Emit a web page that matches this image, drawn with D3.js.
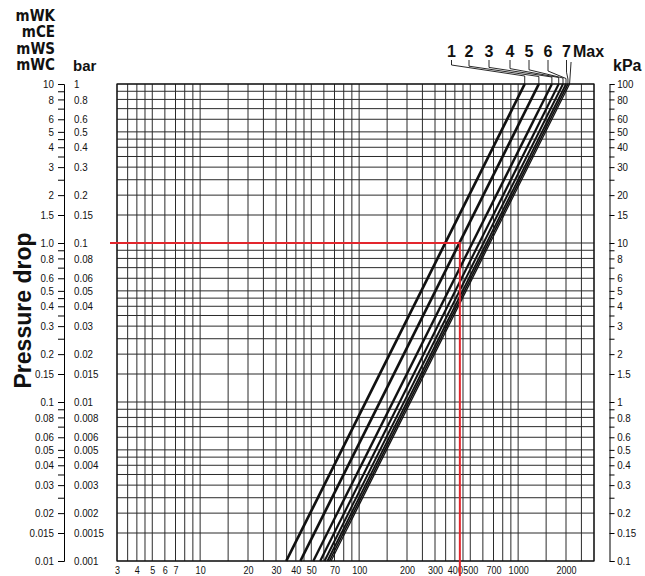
<!DOCTYPE html>
<html>
<head>
<meta charset="utf-8">
<script src="https://cdn.jsdelivr.net/npm/d3@7/dist/d3.min.js"></script>
<style>
  html, body { margin: 0; padding: 0; background: #fff; }
  svg { display: block; }
  .cond { font-family: "DejaVu Sans Condensed", "DejaVu Sans", sans-serif; }
  .wide { font-family: "Liberation Sans", Arial, sans-serif; }
</style>
</head>
<body>
<svg id="chart" width="645" height="576"></svg>
<script>
// Flow range (l/h) and pressure range (mWC) of the diagram
const flowDomain = [3, 3000];
const pressureDomain = [0.01, 10];

// Grid multipliers used inside every decade
const gridSteps = [1, 1.5, 2, 2.5, 3, 3.5, 4, 4.5, 5, 6, 7, 8, 9];

// Labelled flow values along the bottom
const flowLabels = [3, 4, 5, 6, 7, 10, 20, 30, 40, 50, 70, 100, 200, 300, 400, 500, 700, 1000, 2000];

// Labelled pressure values (mWC) with matching bar and kPa texts
const pressureValues = [10, 8, 6, 5, 4, 3, 2, 1.5, 1, 0.8, 0.6, 0.5, 0.4, 0.3, 0.2, 0.15,
  0.1, 0.08, 0.06, 0.05, 0.04, 0.03, 0.02, 0.015, 0.01];
const mwcLabels = ["10", "8", "6", "5", "4", "3", "2", "1.5", "1.0", "0.8", "0.6", "0.5", "0.4", "0.3", "0.2", "0.15",
  "0.1", "0.08", "0.06", "0.05", "0.04", "0.03", "0.02", "0.015", "0.01"];
const barLabels = ["1", "0.8", "0.6", "0.5", "0.4", "0.3", "0.2", "0.15", "0.1", "0.08", "0.06", "0.05", "0.04", "0.03", "0.02", "0.015",
  "0.01", "0.008", "0.006", "0.005", "0.004", "0.003", "0.002", "0.0015", "0.001"];
const kpaLabels = ["100", "80", "60", "50", "40", "30", "20", "15", "10", "8", "6", "5", "4", "3", "2", "1.5",
  "1", "0.8", "0.6", "0.5", "0.4", "0.3", "0.2", "0.15", "0.1"];

// Valve settings: flow (l/h) at 10 mWC and at 0.01 mWC
const settings = ["1", "2", "3", "4", "5", "6", "7", "Max"];
const flowAtTop = [1100, 1350, 1630, 1800, 1915, 2000, 2057, 2106];
const flowAtBottom = [34.8, 42.7, 51.5, 56.9, 60.6, 63.2, 65.0, 66.6];
const lineWidths = [2.7, 2.7, 2.4, 2.2, 2.0, 1.8, 1.6, 1.3];

// Worked example: setting 2 at 1.0 mWC
const exampleFlow = 430;
const examplePressure = 1.0;

// Header units
const unitStack = ["mWK", "mCE", "mWS", "mWC"];

const svg = d3.select("#chart");
const plot = { left: 117, right: 594, top: 84, bottom: 561 };

const x = d3.scaleLog().domain(flowDomain).range([plot.left, plot.right]);
const y = d3.scaleLog().domain(pressureDomain).range([plot.bottom, plot.top]);

function decadeValues(domain) {
  const out = [];
  for (let e = Math.floor(Math.log10(domain[0])); e <= Math.ceil(Math.log10(domain[1])); e++) {
    gridSteps.forEach(s => {
      const v = +(s * Math.pow(10, e)).toPrecision(6);
      if (v >= domain[0] * 0.9999 && v <= domain[1] * 1.0001) out.push(v);
    });
  }
  return out;
}
const flowGrid = decadeValues(flowDomain);
const pressureGrid = decadeValues(pressureDomain);

// Grid
const grid = svg.append("g").attr("stroke", "#2b2b2b").attr("stroke-width", 1);
grid.selectAll("line.v").data(flowGrid).join("line")
  .attr("class", "v")
  .attr("x1", d => x(d)).attr("x2", d => x(d))
  .attr("y1", plot.top).attr("y2", plot.bottom);
grid.selectAll("line.h").data(pressureGrid).join("line")
  .attr("class", "h")
  .attr("x1", plot.left).attr("x2", plot.right)
  .attr("y1", d => y(d)).attr("y2", d => y(d));

// Tick labels use a horizontally squeezed sans for a condensed look
const squeeze = 0.85;
function styleTicks(g, size, sx) {
  g.attr("font-family", null).attr("class", "wide");
  g.selectAll("text").attr("font-size", size).attr("fill", "#111")
    .attr("transform", `scale(${sx},1)`);
}
const labelFor = (vals, labels) => d => {
  const i = vals.findIndex(v => Math.abs(v - d) < 1e-9);
  return i >= 0 ? labels[i] : "";
};

// Left axis: mWC labels with ticks, bar labels on the other side
const leftX = 64;
const leftAxis = svg.append("g")
  .attr("transform", `translate(${leftX},0)`)
  .call(d3.axisLeft(y).tickValues(pressureGrid).tickSize(6).tickPadding(5.8)
    .tickFormat(labelFor(pressureValues, mwcLabels)));
styleTicks(leftAxis, 11.5, squeeze);

const barAxis = svg.append("g")
  .attr("transform", `translate(${leftX},0)`)
  .call(d3.axisRight(y).tickValues(pressureValues).tickSize(0).tickPadding(11.8)
    .tickFormat(labelFor(pressureValues, barLabels)));
barAxis.select(".domain").remove();
styleTicks(barAxis, 11.5, squeeze);

// Right axis: kPa
const rightX = 609.5;
const rightAxis = svg.append("g")
  .attr("transform", `translate(${rightX},0)`)
  .call(d3.axisRight(y).tickValues(pressureGrid).tickSize(5).tickPadding(4)
    .tickFormat(labelFor(pressureValues, kpaLabels)));
styleTicks(rightAxis, 11.5, squeeze);

// Bottom flow labels
const bottomAxis = svg.append("g")
  .attr("transform", `translate(0,${plot.bottom})`)
  .call(d3.axisBottom(x).tickValues(flowLabels).tickSize(0).tickPadding(5)
    .tickFormat(d => String(d)));
bottomAxis.select(".domain").remove();
styleTicks(bottomAxis, 11, 0.82);

// Plot frame
svg.append("rect")
  .attr("x", plot.left).attr("y", plot.top)
  .attr("width", plot.right - plot.left).attr("height", plot.bottom - plot.top)
  .attr("fill", "none").attr("stroke", "#111").attr("stroke-width", 1.2);

// Characteristic lines per setting
const series = settings.map((name, i) => ({
  name,
  width: lineWidths[i],
  points: [
    { flow: flowAtBottom[i], p: pressureDomain[0] },
    { flow: flowAtTop[i], p: pressureDomain[1] }
  ]
}));
const lineGen = d3.line().x(d => x(d.flow)).y(d => y(d.p));
svg.append("g").selectAll("path").data(series).join("path")
  .attr("d", d => lineGen(d.points))
  .attr("fill", "none").attr("stroke", "#111")
  .attr("stroke-width", d => d.width);

// Setting labels with leader lines
const settingLabelX = [451.5, 469, 489, 510, 529, 548, 566.5, 576];
const labels = svg.append("g").attr("class", "wide")
  .attr("font-weight", "bold").attr("font-size", 16).attr("fill", "#111");
settings.forEach((name, i) => {
  const isMax = name === "Max";
  labels.append("text")
    .attr("x", isMax ? settingLabelX[i] - 3 : settingLabelX[i])
    .attr("y", 57)
    .attr("text-anchor", isMax ? "start" : "middle")
    .text(name);
  const tx = x(flowAtTop[i]);
  const lx = isMax ? tx + 1.5 : settingLabelX[i];
  const pts = isMax
    ? [[lx, 62], [tx, plot.top]]
    : [[lx, 60], [lx, 65 + i * 1.2], [tx, 76 + i * 0.5], [tx, plot.top]];
  svg.append("path")
    .attr("d", d3.line()(pts))
    .attr("fill", "none").attr("stroke", "#111").attr("stroke-width", 0.9);
});

// Unit headers
const head = svg.append("g").attr("fill", "#111").attr("font-weight", "bold");
unitStack.forEach((u, i) => {
  head.append("text").attr("class", "cond")
    .attr("x", 55).attr("y", 21 + i * 16.3)
    .attr("text-anchor", "end").attr("font-size", 15).text(u);
});
head.append("text").attr("class", "wide")
  .attr("x", 73).attr("y", 70.5).attr("font-size", 15).text("bar");
head.append("text").attr("class", "wide")
  .attr("x", 613).attr("y", 71).attr("font-size", 16).text("kPa");

// Axis title
svg.append("text").attr("class", "wide")
  .attr("transform", `translate(31,${(plot.top + plot.bottom) / 2 - 12}) rotate(-90)`)
  .attr("text-anchor", "middle").attr("font-weight", "bold").attr("font-size", 23)
  .attr("fill", "#111")
  .text("Pressure drop");

// Worked example
const red = svg.append("g").attr("stroke", "#e3262d").attr("stroke-width", 2).attr("fill", "none");
red.append("path").attr("d", d3.line()([
  [plot.left - 7, y(examplePressure)],
  [x(exampleFlow), y(examplePressure)],
  [x(exampleFlow), 576]
]));
</script>
</body>
</html>
